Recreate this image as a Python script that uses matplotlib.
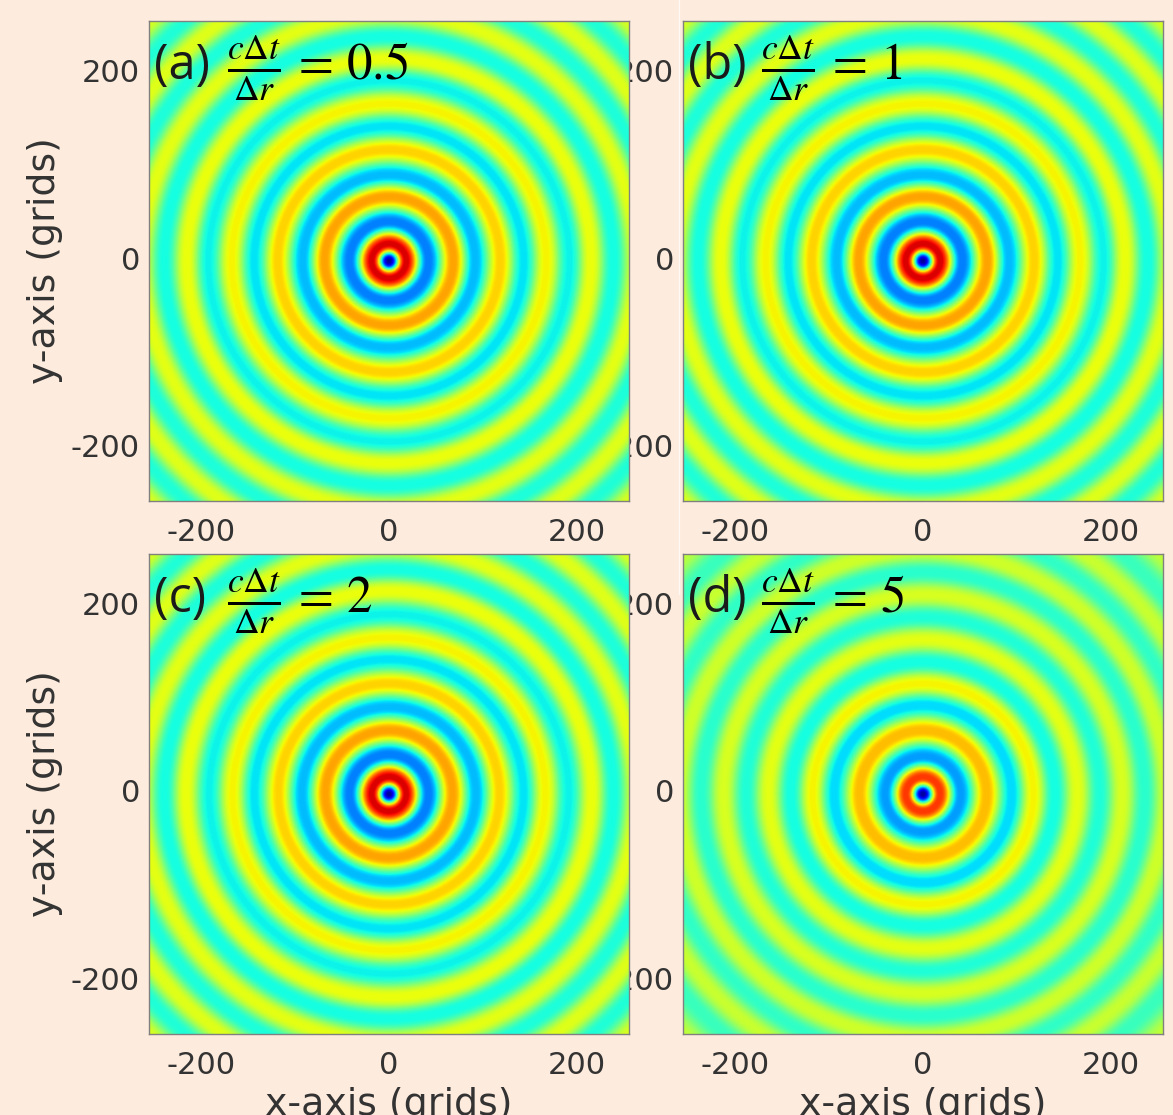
import numpy as np
import matplotlib
matplotlib.use('Agg')
import matplotlib.pyplot as plt
from matplotlib.lines import Line2D

BG = '#fdebdd'
TEXT = '#333333'

radius_a = [0, 18, 42, 69, 92, 119, 144, 168, 193, 216, 240, 264, 288, 312, 336, 362]
value_a = [0.03, 0.92, 0.25, 0.735, 0.31, 0.685, 0.35, 0.65, 0.365, 0.635, 0.375, 0.625, 0.385, 0.62, 0.39, 0.61]
radius_b = [0, 18, 42, 69, 92, 119, 144, 168, 193, 216, 240, 264, 288, 312, 336, 362]
value_b = [0.03, 0.92, 0.25, 0.735, 0.31, 0.685, 0.35, 0.65, 0.365, 0.635, 0.375, 0.625, 0.385, 0.62, 0.39, 0.61]
radius_c = [0, 18, 42, 68, 93, 118, 144, 167, 192, 217, 240, 264, 288, 312, 336, 362]
value_c = [0.03, 0.92, 0.25, 0.735, 0.31, 0.685, 0.35, 0.65, 0.365, 0.635, 0.375, 0.625, 0.385, 0.62, 0.39, 0.61]
radius_d = [0, 18, 40, 68, 95, 118, 141, 165, 189, 213, 237, 260, 284, 308, 332, 362]
value_d = [0.03, 0.85, 0.28, 0.71, 0.34, 0.65, 0.375, 0.625, 0.39, 0.61, 0.40, 0.60, 0.41, 0.59, 0.42, 0.58]

panel_labels = ['(a)', '(b)', '(c)', '(d)']
ratios = ['0.5', '1', '2', '5']
ticks = [-200, 0, 200]


def ring_image(radius, value):
    grid = np.arange(-256, 257)
    x, y = np.meshgrid(grid, grid)
    r = np.clip(np.hypot(x, y), 0, radius[-1] - 1e-6)
    # eased steps between the read maxima and minima, short flat part at each extreme
    pos = np.interp(r, radius, np.arange(len(radius)))
    i = np.floor(pos).astype(int)
    t = np.clip((pos - i - 0.06) / 0.88, 0, 1)
    t = (1 - np.cos(np.pi * t)) / 2
    v = np.asarray(value)
    return v[i] + (v[i + 1] - v[i]) * t


plt.rcParams['axes.unicode_minus'] = False
plt.rcParams['mathtext.fontset'] = 'stix'

W, H = 1173, 1115
fig = plt.figure(figsize=(W / 100, H / 100), dpi=100, facecolor=BG)

boxes = [(149, 21), (683, 21), (149, 554), (683, 554)]
profiles = [(radius_a, value_a), (radius_b, value_b), (radius_c, value_c), (radius_d, value_d)]

for n, (px, py) in enumerate(boxes):
    # left column sits above the right one so it hides the start of the tick labels
    ax = fig.add_axes([px / W, 1 - (py + 480) / H, 480 / W, 480 / H], zorder=2 - n % 2)
    ax.imshow(ring_image(*profiles[n]), cmap='jet', vmin=0, vmax=1, origin='lower',
              extent=[-256, 256, -256, 256], interpolation='bilinear', aspect='auto')
    ax.set_xticks(ticks)
    ax.set_yticks(ticks)
    ax.tick_params(length=0, labelsize=22, labelcolor=TEXT, pad=6.5)
    ax.tick_params(axis='x', pad=12)
    for lab in ax.get_yticklabels():
        lab.set_va('center')
    for s in ax.spines.values():
        s.set_color('#808080')
        s.set_linewidth(1)
    if n % 2 == 0:
        ax.set_ylabel('y-axis (grids)', fontsize=27.3, color=TEXT, labelpad=6)
    if n >= 2:
        ax.set_xlabel('x-axis (grids)', fontsize=27.3, color=TEXT, labelpad=5)

    # label and ratio, placed in pixels from the panel corner
    ax.text(5 / 480, 1 - 45 / 480, panel_labels[n], transform=ax.transAxes, fontsize=35,
            family='Open Sans', color='#1a1a1a', va='center', ha='left')
    ax.text(78 / 480, 1 - 47 / 480, r'$\frac{c\Delta t}{\Delta r}\,=\,' + ratios[n] + '$',
            transform=ax.transAxes, fontsize=36.5, color='black', va='center', ha='left')

fig.add_artist(Line2D([679 / W, 679 / W], [1 - 594 / H, 1], color='white', lw=1, alpha=0.7))

plt.savefig('out.png', dpi=100, facecolor=BG)
plt.close()
